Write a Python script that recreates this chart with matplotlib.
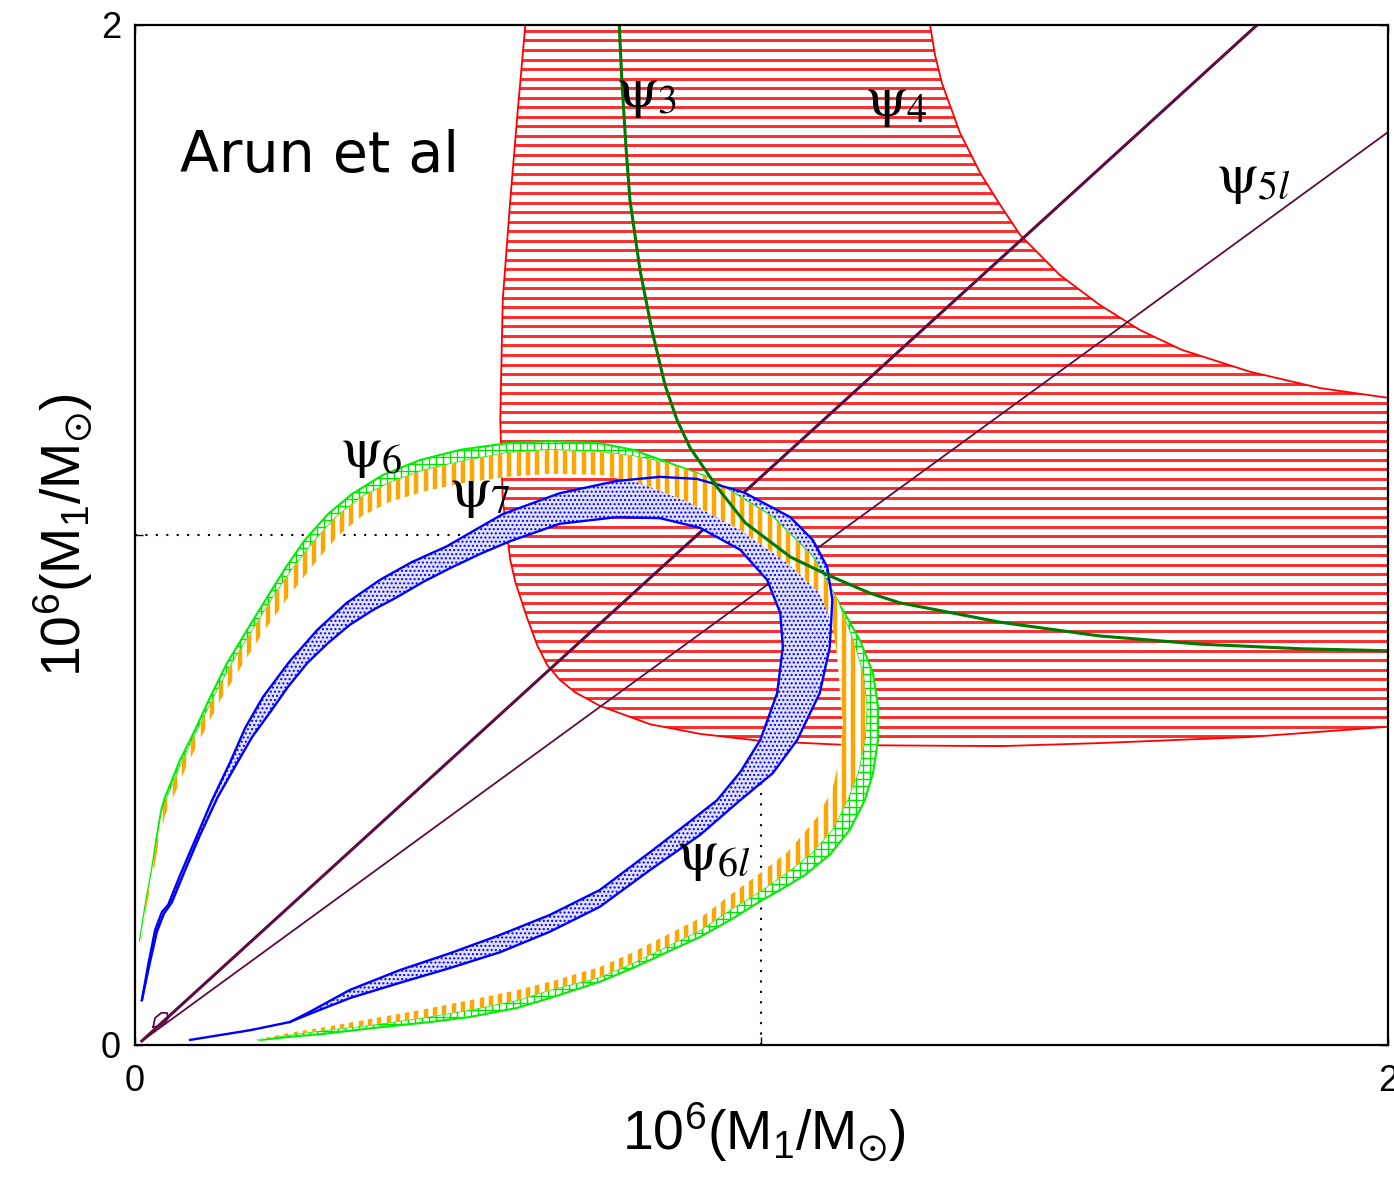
import numpy as np
import matplotlib
matplotlib.use("Agg")
import matplotlib.pyplot as plt
from matplotlib.patches import Polygon
from matplotlib.collections import LineCollection

plt.rcParams['font.family'] = ['Liberation Sans', 'DejaVu Sans']
plt.rcParams['mathtext.fontset'] = 'stix'
plt.rcParams['lines.solid_joinstyle'] = 'round'

# psi_4 region (red): inner edge, top -> bottom -> right
psi4_in_x = [0.623, 0.611, 0.599, 0.587, 0.583, 0.587, 0.599, 0.607, 0.626, 0.642,
             0.658, 0.678, 0.702, 0.742, 0.822, 0.902, 1.001, 1.141, 1.381, 1.540,
             1.780, 2.000]
psi4_in_y = [2.000, 1.833, 1.657, 1.461, 1.225, 1.069, 0.951, 0.908, 0.837, 0.784,
             0.745, 0.716, 0.692, 0.665, 0.629, 0.610, 0.596, 0.588, 0.586, 0.592,
             0.604, 0.624]
# psi_4 region: outer edge, top -> right
psi4_out_x = [1.269, 1.277, 1.288, 1.317, 1.349, 1.381, 1.413, 1.476, 1.540, 1.604,
              1.671, 1.780, 1.892, 2.000]
psi4_out_y = [2.000, 1.941, 1.886, 1.788, 1.710, 1.647, 1.588, 1.510, 1.451, 1.402,
              1.363, 1.320, 1.288, 1.269]

# psi_3 curve
psi3_x = [0.773, 0.777, 0.784, 0.790, 0.806, 0.825, 0.846, 0.865, 0.886, 0.929,
          0.974, 1.046, 1.105, 1.173, 1.221, 1.381, 1.540, 1.700, 1.860, 2.000]
psi3_y = [2.000, 1.892, 1.755, 1.657, 1.520, 1.402, 1.294, 1.226, 1.171, 1.094,
          1.024, 0.957, 0.922, 0.886, 0.867, 0.829, 0.802, 0.786, 0.777, 0.773]

# psi_5 and psi_5l lines
psi5_x = [0.011, 1.791]
psi5_y = [0.008, 2.000]
psi5l_x = [0.011, 2.000]
psi5l_y = [0.008, 1.790]
loop_x = [0.029, 0.032, 0.042, 0.051, 0.053, 0.045, 0.029]
loop_y = [0.035, 0.053, 0.063, 0.063, 0.053, 0.039, 0.035]

# psi_6l band (blue)
psi6l_out_x = [0.011, 0.021, 0.032, 0.043, 0.053, 0.072, 0.096, 0.123, 0.152, 0.176,
               0.204, 0.246, 0.291, 0.338, 0.391, 0.442, 0.498, 0.543, 0.587, 0.678,
               0.769, 0.838, 0.897, 0.971, 1.046, 1.082, 1.105, 1.113, 1.109, 1.093,
               1.057, 1.018, 0.966, 0.902, 0.822, 0.742, 0.662, 0.583, 0.503, 0.423,
               0.343, 0.279, 0.247, 0.184, 0.088]
psi6l_out_y = [0.088, 0.157, 0.225, 0.261, 0.275, 0.333, 0.402, 0.480, 0.555, 0.622,
               0.682, 0.751, 0.814, 0.867, 0.912, 0.947, 0.978, 1.010, 1.041, 1.082,
               1.106, 1.114, 1.110, 1.084, 1.035, 0.990, 0.937, 0.873, 0.780, 0.690,
               0.598, 0.533, 0.480, 0.412, 0.343, 0.271, 0.222, 0.182, 0.151, 0.122,
               0.092, 0.061, 0.045, 0.029, 0.010]
psi6l_in_x = [0.011, 0.024, 0.035, 0.046, 0.059, 0.080, 0.104, 0.132, 0.163, 0.187,
              0.216, 0.244, 0.275, 0.308, 0.343, 0.380, 0.418, 0.460, 0.503, 0.551,
              0.599, 0.678, 0.769, 0.838, 0.902, 0.966, 1.009, 1.030, 1.034, 1.025,
              0.998, 0.966, 0.929, 0.875, 0.822, 0.742, 0.662, 0.583, 0.503, 0.423,
              0.343, 0.279, 0.247]
psi6l_in_y = [0.088, 0.163, 0.222, 0.257, 0.280, 0.343, 0.412, 0.486, 0.553, 0.604,
              0.653, 0.702, 0.749, 0.788, 0.824, 0.853, 0.878, 0.908, 0.935, 0.963,
              0.988, 1.022, 1.035, 1.033, 1.014, 0.971, 0.912, 0.847, 0.780, 0.690,
              0.598, 0.535, 0.480, 0.428, 0.378, 0.304, 0.255, 0.216, 0.180, 0.147,
              0.108, 0.065, 0.045]

# psi_6 band (green): outer edge
psi6_out_x = [0.008, 0.018, 0.027, 0.034, 0.042, 0.048, 0.072, 0.096, 0.120, 0.147,
              0.179, 0.211, 0.241, 0.271, 0.308, 0.346, 0.396, 0.455, 0.519, 0.594,
              0.662, 0.742, 0.795, 0.849, 0.913, 1.018, 1.082, 1.125, 1.157, 1.178,
              1.186, 1.186, 1.178, 1.165, 1.141, 1.109, 1.069, 1.030, 1.001, 0.950,
              0.902, 0.795, 0.742, 0.662, 0.611, 0.535, 0.471, 0.378, 0.302, 0.247,
              0.201]
psi6_out_y = [0.206, 0.284, 0.343, 0.402, 0.461, 0.486, 0.559, 0.618, 0.682, 0.749,
              0.814, 0.878, 0.937, 0.990, 1.041, 1.080, 1.118, 1.147, 1.167, 1.180,
              1.184, 1.180, 1.167, 1.143, 1.114, 1.035, 0.957, 0.863, 0.794, 0.729,
              0.663, 0.598, 0.533, 0.480, 0.422, 0.373, 0.333, 0.304, 0.284, 0.245,
              0.212, 0.151, 0.124, 0.092, 0.073, 0.055, 0.045, 0.033, 0.022, 0.016,
              0.010]
# edge shared by psi_6 (green) and psi_7 (orange)
shared_x = [0.008, 0.018, 0.027, 0.035, 0.043, 0.051, 0.075, 0.099, 0.125, 0.155,
            0.187, 0.220, 0.252, 0.286, 0.322, 0.362, 0.409, 0.463, 0.524, 0.594,
            0.662, 0.742, 0.795, 0.849, 0.913, 1.018, 1.082, 1.121, 1.146, 1.162,
            1.168, 1.165, 1.154, 1.137, 1.113, 1.081, 1.046, 1.001, 0.950, 0.902,
            0.795, 0.742, 0.662, 0.611, 0.535, 0.457, 0.375, 0.302, 0.247, 0.196]
shared_y = [0.204, 0.282, 0.341, 0.400, 0.459, 0.484, 0.555, 0.616, 0.680, 0.749,
            0.812, 0.877, 0.935, 0.988, 1.037, 1.075, 1.104, 1.128, 1.145, 1.161,
            1.167, 1.163, 1.155, 1.141, 1.114, 1.035, 0.957, 0.873, 0.794, 0.729,
            0.663, 0.598, 0.533, 0.480, 0.422, 0.378, 0.343, 0.304, 0.265, 0.225,
            0.161, 0.133, 0.108, 0.088, 0.069, 0.053, 0.039, 0.029, 0.020, 0.010]
# psi_7 band (orange): inner edge
psi7_in_x = [0.008, 0.019, 0.029, 0.037, 0.048, 0.059, 0.083, 0.109, 0.136, 0.171,
             0.206, 0.244, 0.283, 0.324, 0.362, 0.407, 0.463, 0.524, 0.594, 0.662,
             0.742, 0.806, 0.886, 0.966, 1.041, 1.093, 1.114, 1.121, 1.125, 1.130,
             1.125, 1.113, 1.089, 1.061, 1.041, 0.998, 0.950, 0.902, 0.795, 0.742,
             0.662, 0.611, 0.535, 0.457, 0.375, 0.302, 0.247, 0.192]
psi7_in_y = [0.192, 0.275, 0.333, 0.392, 0.451, 0.480, 0.549, 0.612, 0.676, 0.745,
             0.812, 0.877, 0.939, 0.998, 1.037, 1.065, 1.086, 1.102, 1.114, 1.120,
             1.118, 1.102, 1.063, 1.010, 0.945, 0.886, 0.820, 0.761, 0.696, 0.631,
             0.565, 0.500, 0.447, 0.406, 0.378, 0.337, 0.294, 0.249, 0.182, 0.153,
             0.124, 0.108, 0.088, 0.069, 0.051, 0.035, 0.024, 0.010]

# curve labels: text, x, y
labels = [(r'$\mathrm{\psi}_{3}$', 0.817, 1.867),
          (r'$\mathrm{\psi}_{4}$', 1.215, 1.849),
          (r'$\mathrm{\psi}_{5l}$', 1.785, 1.698),
          (r'$\mathrm{\psi}_{6}$', 0.378, 1.161),
          (r'$\mathrm{\psi}_{7}$', 0.551, 1.082),
          (r'$\mathrm{\psi}_{6l}$', 0.923, 0.371)]

PURPLE = '#5e0b3f'


def band(x_a, y_a, x_b, y_b):
    # closed outline: one edge forward, the other edge back
    return np.column_stack([list(x_a) + list(x_b)[::-1],
                            list(y_a) + list(y_b)[::-1]])


def hatch(ax, patch, xs=(), ys=(), **kw):
    segs = [[(x, -0.1), (x, 2.1)] for x in xs] + [[(-0.1, y), (2.1, y)] for y in ys]
    lc = LineCollection(segs, **kw)
    ax.add_collection(lc)
    lc.set_clip_path(patch)
    return lc


fig = plt.figure(figsize=(13.94, 11.92), dpi=100)
ax = fig.add_axes([135 / 1394, 147 / 1192, 1253 / 1394, 1020 / 1192])
ax.set_xlim(0, 2)
ax.set_ylim(0, 2)

# crosshair at (1, 1)
ax.axvline(1, color='black', lw=1.5, ls=(0, (1, 4)), zorder=1)
ax.axhline(1, color='black', lw=1.5, ls=(0, (1, 4)), zorder=1)

# psi_4 region with horizontal hatching
red = Polygon(band(psi4_in_x, psi4_in_y, psi4_out_x, psi4_out_y),
              facecolor='white', edgecolor='none', zorder=2)
ax.add_patch(red)
hatch(ax, red, ys=np.arange(0.0072, 2.0, 0.01869), colors='#ff2a2a',
      linewidths=2.1, zorder=2.1)
ax.plot(psi4_in_x, psi4_in_y, color='red', lw=1.3, zorder=2.2)
ax.plot(psi4_out_x, psi4_out_y, color='red', lw=1.3, zorder=2.2)

# psi_5 lines
ax.plot(psi5_x, psi5_y, color=PURPLE, lw=2.2, zorder=3)
ax.plot(psi5l_x, psi5l_y, color=PURPLE, lw=1.3, zorder=3)
ax.plot(loop_x, loop_y, color=PURPLE, lw=1.3, zorder=3)

# psi_6l band: dotted fill
blue = Polygon(band(psi6l_out_x, psi6l_out_y, psi6l_in_x, psi6l_in_y),
               facecolor='#e2e2ff', edgecolor='blue', lw=0, hatch='....', zorder=4)
ax.add_patch(blue)

# psi_6 band: green cross hatching
green = Polygon(band(psi6_out_x, psi6_out_y, shared_x, shared_y),
                facecolor='white', edgecolor='none', zorder=5)
ax.add_patch(green)
hatch(ax, green, xs=np.arange(0, 2, 0.01117), ys=np.arange(0, 2, 0.01373),
      colors='#00e600', linewidths=1.0, zorder=5.1)
ax.plot(psi6_out_x, psi6_out_y, color='#00ee00', lw=1.5, zorder=5.2)
ax.plot(shared_x, shared_y, color='#00ee00', lw=1.0, zorder=5.2)

# psi_7 band: vertical orange stripes
orange = Polygon(band(shared_x, shared_y, psi7_in_x, psi7_in_y),
                 facecolor='white', edgecolor='none', zorder=5.5)
ax.add_patch(orange)
hatch(ax, orange, xs=np.arange(0.004, 2, 0.01484), colors='#ffa500',
      linewidths=3.2, zorder=5.6)

# psi_6l edges over everything but psi_3
ax.plot(psi6l_out_x, psi6l_out_y, color='blue', lw=1.7, zorder=6)
ax.plot(psi6l_in_x, psi6l_in_y, color='blue', lw=1.7, zorder=6)

ax.plot(psi3_x, psi3_y, color='#007a00', lw=2.2, zorder=7)

for txt, x, y in labels:
    ax.text(x, y, txt, fontsize=41, ha='center', va='center', zorder=8)

ax.text(0.072, 1.712, 'Arun et al', fontsize=41, family='DejaVu Sans',
        va='baseline', zorder=8)

# axes, ticks and labels
for s in ax.spines.values():
    s.set_linewidth(1.6)
    s.set_zorder(9)
ax.set_xticks([0, 1, 2])
ax.set_xticklabels(['0', '', '2'])
ax.set_yticks([0, 1, 2])
ax.set_yticklabels(['0', '', '2'])
ax.tick_params(direction='in', length=6, width=1, top=True, right=True,
               labelsize=26)
ax.tick_params(axis='x', pad=14)
ax.tick_params(axis='y', pad=10)

axis_label = r'$\mathregular{10^{6}(M_{1}/M_{\odot})}$'
ax.set_xlabel(axis_label, fontsize=40)
ax.xaxis.set_label_coords(0.502, -0.055)
ax.set_ylabel(axis_label, fontsize=40)
ax.yaxis.set_label_coords(-0.032, 0.5)

fig.savefig('out.png', dpi=100)
